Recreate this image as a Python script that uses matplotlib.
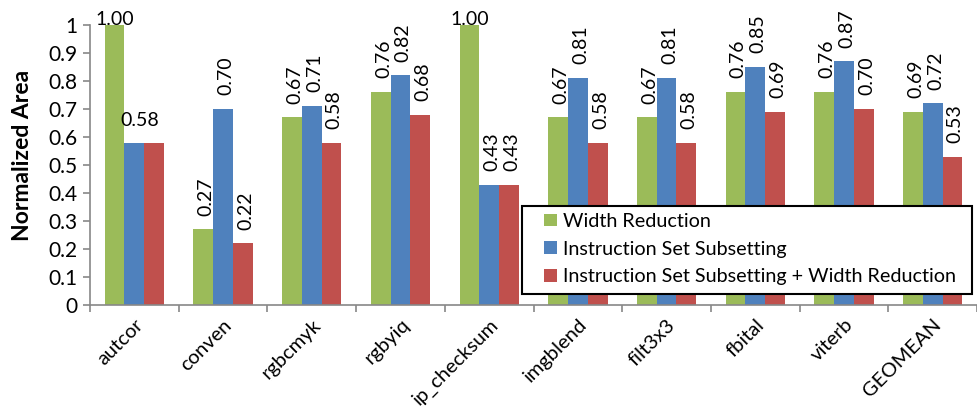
import matplotlib
matplotlib.use('Agg')
import matplotlib.pyplot as plt
from matplotlib.patches import Rectangle
from matplotlib.legend_handler import HandlerPatch
import numpy as np

benchmarks = ['autcor', 'conven', 'rgbcmyk', 'rgbyiq', 'ip_checksum',
              'imgblend', 'filt3x3', 'fbital', 'viterb', 'GEOMEAN']
width_red = [1.00, 0.27, 0.67, 0.76, 1.00, 0.67, 0.67, 0.76, 0.76, 0.69]
subset = [0.58, 0.70, 0.71, 0.82, 0.43, 0.81, 0.81, 0.85, 0.87, 0.72]
subset_width = [0.58, 0.22, 0.58, 0.68, 0.43, 0.58, 0.58, 0.69, 0.70, 0.53]
series_names = ['Width Reduction', 'Instruction Set Subsetting',
                'Instruction Set Subsetting + Width Reduction']
yticks = [0, 0.1, 0.2, 0.3, 0.4, 0.5, 0.6, 0.7, 0.8, 0.9, 1]
ytick_labels = ['0', '0.1', '0.2', '0.3', '0.4', '0.5', '0.6', '0.7', '0.8', '0.9', '1']

colors = ['#9BBB59', '#4F81BD', '#C0504D']
plt.rcParams['font.family'] = ['Lato', 'DejaVu Sans']


class SquareHandler(HandlerPatch):
    # small square swatch pushed to the right end of the handle box
    def create_artists(self, legend, orig_handle, xdescent, ydescent,
                       width, height, fontsize, trans):
        side = height
        p = Rectangle((width - side - xdescent, -ydescent), side, side,
                      facecolor=orig_handle.get_facecolor(), edgecolor='none',
                      transform=trans)
        return [p]


fig = plt.figure(figsize=(9.77, 4.08), dpi=100)
ax = fig.add_axes([0.0921, 0.2525, 0.908, 0.686])

x = np.arange(len(benchmarks))
w = 0.223
handles = []
for k, (vals, c, name) in enumerate(zip([width_red, subset, subset_width], colors, series_names)):
    b = ax.bar(x + (k - 1) * w, vals, w, color=c, label=name, zorder=2)
    handles.append(b.patches[0])

# value labels: vertical above each bar, horizontal where the bar hits the top
lbl_size = 14
for k, vals in enumerate([width_red, subset, subset_width]):
    for i, v in enumerate(vals):
        xc = x[i] + (k - 1) * w
        if v >= 0.995:
            ax.annotate(f'{v:.2f}', (xc, v), xytext=(0, -2), textcoords='offset points',
                        ha='center', va='bottom', fontsize=lbl_size, annotation_clip=False)
        elif benchmarks[i] == 'autcor':
            if k == 1:
                ax.annotate(f'{v:.2f}', (xc + w / 4, v), xytext=(0, 10),
                            textcoords='offset points', ha='center', va='bottom', fontsize=lbl_size)
        else:
            ax.annotate(f'{v:.2f}', (xc, v), xytext=(2, 10), textcoords='offset points',
                        ha='center', va='bottom', rotation=90, fontsize=lbl_size)

ax.set_ylim(0, 1)
ax.set_xlim(-0.5, 9.5 - 11 / 89.7)
ax.set_yticks(yticks)
ax.set_yticklabels(ytick_labels, fontsize=15)
ax.set_xticks(x)
ax.set_xticklabels(benchmarks, rotation=45, ha='right', rotation_mode='anchor',
                   fontsize=14.5)
ax.set_xticks(np.arange(-0.5, 10, 1), minor=True)
ax.tick_params(axis='x', which='major', length=0, pad=8)
ax.tick_params(axis='x', which='minor', length=5, color='#888888', width=1.2)
ax.tick_params(axis='y', length=5, color='#888888', width=1.2, pad=4)

for s in ['top', 'right']:
    ax.spines[s].set_visible(False)
for s in ['left', 'bottom']:
    ax.spines[s].set_color('#888888')
    ax.spines[s].set_linewidth(1.2)

ax.set_ylabel('Normalized Area', fontsize=16.5, fontweight='bold')
ax.yaxis.set_label_coords(-0.064, 0.535)

# legend box drawn separately so the padding can be wider than it is tall
box = Rectangle((522 / 977, 1 - 294 / 408), 450 / 977, 88 / 408,
                transform=fig.transFigure, facecolor='white', edgecolor='black',
                linewidth=1.5, zorder=4.9)
fig.patches.append(box)
leg = fig.legend(handles, series_names, loc='upper left',
                 bbox_to_anchor=(530 / 977, 1 - 213 / 408), fontsize=14.2,
                 frameon=False, handler_map={Rectangle: SquareHandler()},
                 handlelength=1.37, handleheight=0.61, handletextpad=0.3,
                 labelspacing=0.54, borderpad=0, borderaxespad=0)

fig.savefig('out.png', dpi=100)
